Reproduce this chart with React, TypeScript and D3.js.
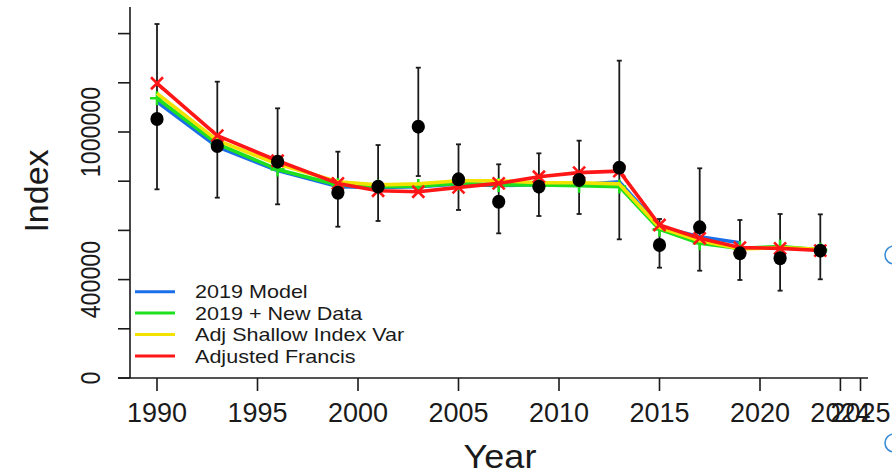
import React from "react";
import * as d3 from "d3";

const years = [1990, 1993, 1996, 1999, 2001, 2003, 2005, 2007, 2009, 2011, 2013, 2015, 2017, 2019, 2021, 2023];
const observed = [1052800, 943000, 879400, 753300, 777800, 1021700, 807600, 716700, 777800, 804900, 855000, 540700, 612500, 506800, 486500, 517600];
const lowerCI = [767000, 733000, 706000, 615000, 638200, 821000, 683000, 588000, 658500, 666700, 563700, 448400, 436200, 398400, 355000, 401200];
const upperCI = [1439000, 1204500, 1096300, 920000, 947000, 1261500, 949900, 868600, 913300, 964800, 1290000, 646300, 852400, 642300, 666700, 665300];

const model2019 = [1123000, 940000, 843000, 778000, 775000, 778000, 789000, 782000, 787000, 785000, 798000, 615000, 574000, 550000];
const newData2019 = [1137000, 952000, 848000, 785000, 778000, 780000, 791000, 785000, 785000, 782000, 778000, 604000, 548000, 527000, 534000, 521000];
const adjShallow = [1157000, 966000, 870000, 798000, 785000, 789000, 802000, 802000, 794000, 794000, 789000, 612000, 558000, 525000, 530000, 523000];
const adjFrancis = [1198000, 985000, 883000, 791000, 761000, 757000, 775000, 791000, 818000, 835000, 841000, 622000, 568000, 530000, 527000, 518000];

const seriesNames = ["2019 Model", "2019 + New Data", "Adj Shallow Index Var", "Adjusted Francis"];
const seriesColors = ["#1a6fe8", "#1ee01e", "#f2e200", "#ff1616"];

const xTickValues = [1990, 1995, 2000, 2005, 2010, 2015, 2020, 2024, 2025];
const yTickValues = [0, 200000, 400000, 600000, 800000, 1000000, 1200000, 1400000];
const yTickLabels = ["0", "", "400000", "", "", "1000000", "", ""];

const FONT = "'Liberation Sans', Arial, Helvetica, sans-serif";

export default function App() {
  const W = 892, H = 476;
  const x = d3.scaleLinear().domain([1990, 2025]).range([157, 860.5]);
  const y = d3.scaleLinear().domain([0, 1000000]).range([378, 132]);
  const axisLeft = 130;
  const axisBottom = y(0);
  const plotTop = 7;
  const plotRight = 868;

  const seriesData = [model2019, newData2019, adjShallow, adjFrancis];
  const line = d3
    .line<[number, number]>()
    .x((d) => x(d[0]))
    .y((d) => y(d[1]));

  const ink = "#1a1a1a";

  return (
    <svg
      width={W}
      height={H}
      style={{ position: "absolute", left: 0, top: 0, background: "#ffffff" }}
      fontFamily={FONT}
    >
      <rect x={0} y={0} width={W} height={H} fill="#ffffff" />

      {/* axes */}
      <line x1={axisLeft} x2={axisLeft} y1={plotTop} y2={axisBottom} stroke={ink} strokeWidth={1.6} />
      <line x1={118} x2={plotRight} y1={axisBottom} y2={axisBottom} stroke={ink} strokeWidth={1.6} />
      {yTickValues.map((v, i) => (
        <g key={"yt" + v}>
          <line x1={118} x2={axisLeft} y1={y(v)} y2={y(v)} stroke={ink} strokeWidth={1.6} />
          {yTickLabels[i] && (
            <text
              transform={`translate(100,${y(v)}) rotate(-90) scale(0.86,1)`}
              textAnchor="middle"
              fontSize={27}
              fill={ink}
            >
              {yTickLabels[i]}
            </text>
          )}
        </g>
      ))}
      {xTickValues.map((v) => (
        <g key={"xt" + v}>
          <line x1={x(v)} x2={x(v)} y1={axisBottom} y2={axisBottom + 13} stroke={ink} strokeWidth={1.6} />
          <text x={x(v)} y={422} textAnchor="middle" fontSize={27} fill={ink}>
            {v}
          </text>
        </g>
      ))}

      <text transform="translate(48,191) rotate(-90)" textAnchor="middle" fontSize={34} fill={ink}>
        Index
      </text>
      <text transform="translate(500,468) scale(1.06,1)" textAnchor="middle" fontSize={34} fill={ink}>
        Year
      </text>

      {/* error bars */}
      {years.map((yr, i) => (
        <g key={"eb" + yr} stroke={ink} strokeWidth={1.8}>
          <line x1={x(yr)} x2={x(yr)} y1={y(lowerCI[i])} y2={y(upperCI[i])} />
          <line x1={x(yr) - 2.5} x2={x(yr) + 2.5} y1={y(lowerCI[i])} y2={y(lowerCI[i])} />
          <line x1={x(yr) - 2.5} x2={x(yr) + 2.5} y1={y(upperCI[i])} y2={y(upperCI[i])} />
        </g>
      ))}

      {/* series lines */}
      {seriesData.map((vals, s) => {
        const pts: [number, number][] = vals.map((v, i) => [years[i], v]);
        return (
          <g key={"s" + s}>
            <path d={line(pts) || ""} fill="none" stroke={seriesColors[s]} strokeWidth={3.6} strokeLinejoin="round" />
            {s === 1 &&
              pts.map((p) => (
                <path
                  key={"p" + p[0]}
                  d={`M${x(p[0]) - 7},${y(p[1])}H${x(p[0]) + 7}M${x(p[0])},${y(p[1]) - 7}V${y(p[1]) + 7}`}
                  stroke={seriesColors[s]}
                  strokeWidth={2.6}
                />
              ))}
            {s === 3 &&
              pts.map((p) => (
                <path
                  key={"x" + p[0]}
                  d={`M${x(p[0]) - 6},${y(p[1]) - 6}L${x(p[0]) + 6},${y(p[1]) + 6}M${x(p[0]) - 6},${y(p[1]) + 6}L${x(p[0]) + 6},${y(p[1]) - 6}`}
                  stroke={seriesColors[s]}
                  strokeWidth={2.6}
                />
              ))}
          </g>
        );
      })}

      {/* observed points */}
      {years.map((yr, i) => (
        <ellipse key={"pt" + yr} cx={x(yr)} cy={y(observed[i])} rx={6.6} ry={7} fill="#000" />
      ))}

      {/* legend */}
      {seriesNames.map((name, i) => {
        const ry = 291.7 + i * 21.4;
        return (
          <g key={"lg" + i}>
            <line x1={135} x2={175} y1={ry} y2={ry} stroke={seriesColors[i]} strokeWidth={3} />
            <text transform={`translate(195,${ry + 6.6}) scale(1.16,1)`} fontSize={18.6} fill={ink}>
              {name}
            </text>
          </g>
        );
      })}

      {/* slide selection handles at the right edge */}
      <circle cx={894} cy={255} r={9} fill="none" stroke="#3b8dd6" strokeWidth={1.6} />
      <circle cx={894} cy={443} r={9} fill="none" stroke="#3b8dd6" strokeWidth={1.6} />
    </svg>
  );
}
